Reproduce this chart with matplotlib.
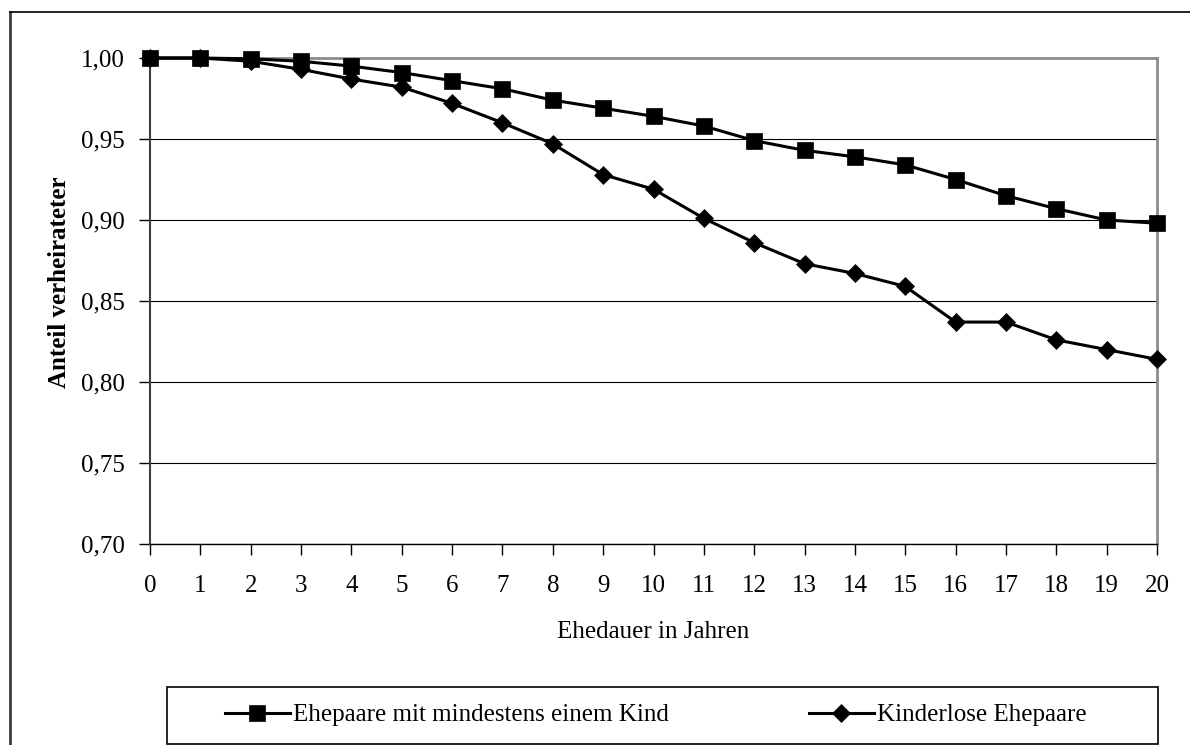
import matplotlib.pyplot as plt
from matplotlib.lines import Line2D
from matplotlib.patches import Rectangle
from matplotlib.ticker import FuncFormatter

plt.rcParams['font.family'] = ['Liberation Serif', 'DejaVu Serif']

jahre = list(range(21))
mit_kind = [1.000, 1.000, 0.9995, 0.998, 0.995, 0.991, 0.986, 0.981, 0.974, 0.969,
            0.964, 0.958, 0.949, 0.943, 0.939, 0.934, 0.925, 0.915, 0.907, 0.900, 0.898]
kinderlos = [1.000, 1.000, 0.998, 0.993, 0.987, 0.982, 0.972, 0.960, 0.947, 0.928,
             0.919, 0.901, 0.886, 0.873, 0.867, 0.859, 0.837, 0.837, 0.826, 0.820, 0.814]
y_ticks = [0.70, 0.75, 0.80, 0.85, 0.90, 0.95, 1.00]

W, H = 1190, 745
fig = plt.figure(figsize=(W / 100, H / 100), dpi=100)
ax = fig.add_axes([150 / W, 1 - 544 / H, (1157 - 150) / W, (544 - 58) / H])

ax.plot(jahre, mit_kind, color='black', lw=2.2, marker='s', ms=12, clip_on=False,
        mec='black', mew=0.5, label='Ehepaare mit mindestens einem Kind', zorder=4)
ax.plot(jahre, kinderlos, color='black', lw=2.2, marker='D', ms=9.6, clip_on=False,
        mec='black', mew=0.5, label='Kinderlose Ehepaare', zorder=3)

ax.set_xlim(0, 20)
ax.set_ylim(0.70, 1.00)
ax.set_xticks(jahre)
ax.set_yticks(y_ticks)
ax.yaxis.set_major_formatter(FuncFormatter(lambda v, p: f'{v:.2f}'.replace('.', ',')))
ax.tick_params(axis='both', direction='out', length=8, width=1, colors='black', labelsize=18)
ax.tick_params(axis='x', pad=14)
ax.tick_params(axis='y', pad=10)
ax.grid(axis='y', color='black', lw=0.8)
ax.set_axisbelow(True)

for side in ('top', 'right'):
    ax.spines[side].set_color('#8c8c8c')
    ax.spines[side].set_linewidth(2)
ax.spines['left'].set_color('#404040')
ax.spines['left'].set_linewidth(1.5)
ax.spines['bottom'].set_color('black')
ax.spines['bottom'].set_linewidth(1)

fig.text(653 / W, 1 - 638 / H, 'Ehedauer in Jahren', ha='center', va='baseline', fontsize=18)
fig.text(60 / W, 1 - 282 / H, 'Anteil verheirateter', ha='center', va='center',
         rotation=90, fontsize=18, fontweight='bold')

# outer chart frame
fig.add_artist(Line2D([10 / W, 10 / W], [0, 1 - 12 / H], color='#404040', lw=2))
fig.add_artist(Line2D([10 / W, 1], [1 - 12 / H, 1 - 12 / H], color='black', lw=1.2))

# legend box
fig.add_artist(Rectangle((167 / W, 1 - 744 / H), (1158 - 167) / W, (744 - 687) / H,
                         transform=fig.transFigure, fill=False, ec='black', lw=1.2))
fig.legend(loc='center', bbox_to_anchor=(655.5 / W, 1 - 715 / H), ncol=2, frameon=False,
           fontsize=18, handlelength=2.6, handletextpad=0.12, columnspacing=5.6)

fig.savefig('out.png', dpi=100)
